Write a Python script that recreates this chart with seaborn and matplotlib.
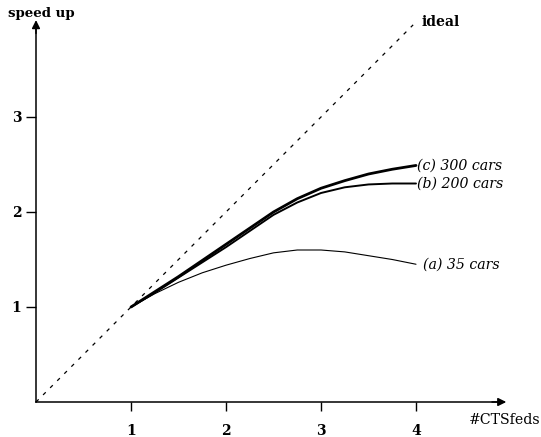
import matplotlib
matplotlib.use("Agg")
import matplotlib.pyplot as plt
import seaborn as sns
import pandas as pd

sns.set_theme(style="white")
plt.rcParams['font.family'] = ['DejaVu Serif']
plt.rcParams['text.color'] = 'black'
plt.rcParams['xtick.color'] = 'black'
plt.rcParams['ytick.color'] = 'black'

x_vals = [1.0, 1.25, 1.5, 1.75, 2.0, 2.25, 2.5, 2.75, 3.0, 3.25, 3.5, 3.75, 4.0]
cars_300 = [1.00, 1.16, 1.32, 1.49, 1.66, 1.83, 2.00, 2.14, 2.25, 2.33, 2.40, 2.45, 2.49]
cars_200 = [1.00, 1.15, 1.31, 1.47, 1.63, 1.80, 1.97, 2.10, 2.20, 2.26, 2.29, 2.30, 2.30]
cars_35 = [1.00, 1.14, 1.26, 1.36, 1.44, 1.51, 1.57, 1.60, 1.60, 1.58, 1.54, 1.50, 1.45]
ideal_x = [0.0, 3.97]
ideal_y = [0.0, 3.97]
series_labels = ["(c) 300 cars", "(b) 200 cars", "(a) 35 cars"]
x_ticks = [1, 2, 3, 4]
y_ticks = [1, 2, 3]

fig = plt.figure(figsize=(5.41, 4.37), dpi=100)
ax = fig.add_axes([0, 0, 1, 1])
ax.set_xlim(-36 / 95, 505 / 95)
ax.set_ylim(-35 / 95, 402 / 95)

sns.lineplot(x=ideal_x, y=ideal_y, ax=ax, color="black", lw=0.9,
             linestyle=(0, (3.0, 5.0)))
data = [(cars_300, 2.0), (cars_200, 1.4), (cars_35, 0.8)]
for (vals, lw) in data:
    sns.lineplot(x=x_vals, y=vals, ax=ax, color="black", lw=lw,
                 solid_capstyle="round")

for vals, lab in zip([cars_300, cars_200, cars_35], series_labels):
    dx = 0.07 if lab.startswith("(a)") else 0.01
    ax.text(x_vals[-1] + dx, vals[-1], lab, fontsize=10.2, style="italic",
            ha="left", va="center")

ax.text(ideal_x[-1] + 0.09, ideal_y[-1] + 0.03, "ideal", fontsize=10,
        fontweight="bold", ha="left", va="center")

# axes
for s in ["top", "right"]:
    ax.spines[s].set_visible(False)
ax.spines["left"].set_position(("data", 0))
ax.spines["bottom"].set_position(("data", 0))
ax.spines["left"].set_bounds(0, 3.95)
ax.spines["bottom"].set_bounds(0, 4.88)
for s in ["left", "bottom"]:
    ax.spines[s].set_color("black")
    ax.spines[s].set_linewidth(1.1)
ax.annotate("", xy=(4.95, 0), xytext=(4.80, 0),
            arrowprops=dict(arrowstyle="-|>", color="black", lw=1.1,
                            mutation_scale=12, shrinkA=0, shrinkB=0))
ax.annotate("", xy=(0, 4.02), xytext=(0, 3.88),
            arrowprops=dict(arrowstyle="-|>", color="black", lw=1.1,
                            mutation_scale=12, shrinkA=0, shrinkB=0))

ax.set_xticks(x_ticks)
ax.set_yticks(y_ticks)
ax.set_xticklabels([str(t) for t in x_ticks], fontweight="bold", fontsize=10)
ax.set_yticklabels([str(t) for t in y_ticks], fontweight="bold", fontsize=10)
ax.tick_params(axis="x", direction="out", length=6.5, width=1, color="black",
               pad=9, bottom=True)
ax.tick_params(axis="y", direction="out", length=7, width=1, color="black",
               pad=3.5, left=True)

fig.text(8 / 541, 1 - 14 / 437, "speed up", fontsize=9.6, fontweight="bold",
         ha="left", va="center")
fig.text(1.0, 1 - 420 / 437, "#CTSfeds", fontsize=10.2, ha="right",
         va="center")

fig.savefig("out.png", dpi=100)
